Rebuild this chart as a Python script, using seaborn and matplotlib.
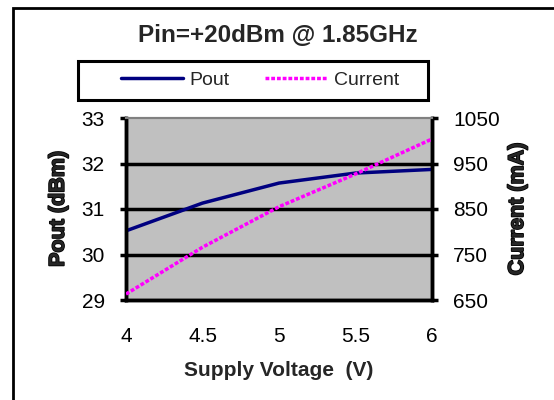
import matplotlib
matplotlib.use("Agg")
import matplotlib.pyplot as plt
import matplotlib.patheffects as pe
import seaborn as sns
import pandas as pd
from matplotlib.lines import Line2D
from matplotlib.patches import Rectangle

# data
voltage = [4.0, 4.5, 5.0, 5.5, 6.0]
pout_dbm = [30.52, 31.13, 31.57, 31.79, 31.87]
current_ma = [663, 766, 855, 927, 1004]

df = pd.DataFrame({"voltage": voltage, "pout": pout_dbm, "current": current_ma})

sns.set_style("white")
plt.rcParams["font.family"] = ["Liberation Sans", "DejaVu Sans"]

fig = plt.figure(figsize=(5.54, 4.0), dpi=100)
ax = fig.add_axes([0.2274, 0.25, 0.5526, 0.455])
ax2 = ax.twinx()

ax.set_facecolor("#C0C0C0")
ax2.patch.set_visible(False)

# gridlines behind the lines
for v in [30, 31, 32]:
    ax.axhline(v, color="black", lw=2.5, zorder=1)

dots = (0, (1.1, 0.55))
sns.lineplot(data=df, x="voltage", y="pout", ax=ax, color="#000080", lw=2.5, zorder=3)
sns.lineplot(data=df, x="voltage", y="current", ax=ax2, color="#FF00FF", lw=2.5,
             linestyle=dots, zorder=3)

ax.set_xlim(4, 6)
ax.set_ylim(29, 33)
ax2.set_ylim(650, 1050)
ax.set_xticks([4, 4.5, 5, 5.5, 6])
ax.set_xticklabels(["4", "4.5", "5", "5.5", "6"])
ax.set_yticks([29, 30, 31, 32, 33])
ax2.set_yticks([650, 750, 850, 950, 1050])

for a in (ax, ax2):
    for s in a.spines.values():
        s.set_color("black")
        s.set_linewidth(2.5)
    a.spines["top"].set_color("#808080")
    a.spines["top"].set_linewidth(1.5)

ax.tick_params(axis="y", direction="out", length=4.3, width=2.5, labelsize=15,
               colors="black", pad=11)
ax.tick_params(axis="x", direction="out", length=4.3, width=2.5, labelsize=15,
               colors="black", pad=15)
ax2.tick_params(axis="y", direction="out", length=4.3, width=2.5, labelsize=15,
                colors="black", pad=11)

bold_fx = [pe.withStroke(linewidth=1.2, foreground="black")]
ax.set_xlabel("Supply Voltage  (V)", fontsize=15, fontweight="bold", labelpad=11)
ax.set_ylabel("Pout (dBm)", fontsize=15.5, fontweight="bold", labelpad=9,
              path_effects=bold_fx)
ax2.set_ylabel("Current (mA)", fontsize=15.5, fontweight="bold", labelpad=5,
               path_effects=bold_fx)

fig.text(0.502, 0.91, "Pin=+20dBm @ 1.85GHz", fontsize=17.5, fontweight="bold",
         ha="center", va="center")

# legend box, then the entries without their own frame
fig.patches.append(Rectangle((78 / 554, 1 - 100 / 400), 350 / 554, 39 / 400,
                             transform=fig.transFigure, fill=False,
                             edgecolor="black", lw=2.2, zorder=2))
handles = [Line2D([], [], color="#000080", lw=2.5),
           Line2D([], [], color="#FF00FF", lw=2.5, linestyle=dots)]
fig.legend(handles, ["Pout", "Current"], loc="center",
           bbox_to_anchor=(260 / 554, 1 - 80.5 / 400), ncol=2, frameon=False,
           fontsize=14, handlelength=3.2, columnspacing=1.8, handletextpad=0.36,
           borderpad=0, borderaxespad=0)

# outer chart frame (left and top edges visible)
fig.patches.append(Rectangle((12.5 / 554, -0.1), 1.2, 1.1 - 7.5 / 400,
                             transform=fig.transFigure, fill=False,
                             edgecolor="black", lw=2, zorder=0))

fig.savefig("out.png", dpi=100)
